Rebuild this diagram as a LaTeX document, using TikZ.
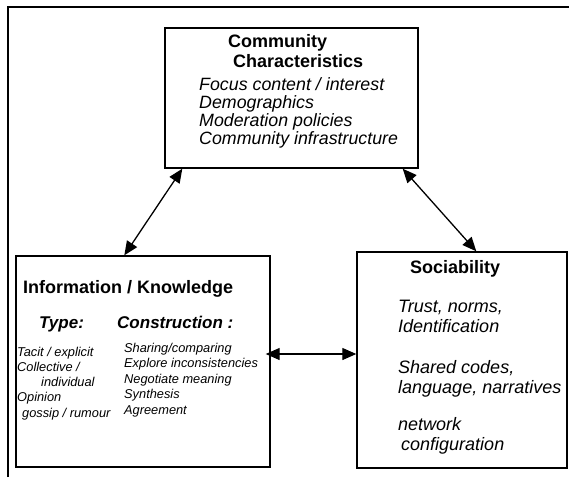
\documentclass[tikz,border=0pt]{standalone}
\usepackage{fontspec}
\setmainfont{Liberation Sans}
\usetikzlibrary{arrows.meta}

\begin{document}
\begin{tikzpicture}[
  x=1pt, y=-1pt,
  box/.style={draw, line width=1.4pt, inner sep=0pt},
  heading/.style={anchor=base west, inner sep=0pt, align=left, font=\bfseries\fontsize{18}{19.5}\selectfont},
  subhead/.style={anchor=base west, inner sep=0pt, font=\bfseries\itshape\fontsize{17}{20}\selectfont},
  item/.style={anchor=base west, inner sep=0pt, align=left, font=\itshape\fontsize{17.8}{18}\selectfont},
  smallitem/.style={anchor=base west, inner sep=0pt, align=left, font=\itshape\fontsize{12.8}{15.2}\selectfont},
  bigitem/.style={anchor=base west, inner sep=0pt, align=left, font=\itshape\fontsize{18}{20}\selectfont},
  link/.style={{Triangle[length=14pt,width=12pt]}-{Triangle[length=14pt,width=12pt]}, line width=1.3pt}
]
  \useasboundingbox (0,0) rectangle (569,477);

  % Outer frame (top and left only)
  \draw[line width=2pt] (8,477) -- (8,7) -- (569,7);

  % Boxes
  \node[box, minimum width=253pt, minimum height=140pt] (chars) at (291.5,98) {};
  \node[box, minimum width=254pt, minimum height=211pt] (info) at (143,361.5) {};
  \node[box, minimum width=210pt, minimum height=216pt] (social) at (462,360) {};

  % Community characteristics (anchored at last baseline)
  \node[heading] (charsTitle) at (228,67) {Community\\\hspace*{5pt}Characteristics};
  \node[item] (charsList) at (199,144) {Focus content / interest\\Demographics\\Moderation policies\\Community infrastructure};

  % Information / knowledge
  \node[heading] (infoTitle) at (23,293) {Information / Knowledge};
  \node[subhead] (typeHead) at (39,328) {Type:};
  \node[subhead] (consHead) at (117,328) {Construction :};
  \node[smallitem] (typeList) at (17,417) {Tacit / explicit\\Collective /\\\hspace*{24pt}individual\\Opinion\\\hspace*{5pt}gossip / rumour};
  \node[smallitem, font=\itshape\fontsize{12.8}{15.5}\selectfont] (consList) at (124,414) {Sharing/comparing\\Explore inconsistencies\\Negotiate meaning\\Synthesis\\Agreement};

  % Sociability
  \node[heading] (socialTitle) at (410,273) {Sociability};
  \node[bigitem] (trustList) at (398,332) {Trust, norms,\\Identification};
  \node[bigitem] (codesList) at (398,393) {Shared codes,\\language, narratives};
  \node[bigitem] (netList) at (398,450) {network\\\hspace*{3pt}configuration};

  % Two-way links
  \draw[link] ([xshift=18pt]chars.south west) -- ([xshift=109pt]info.north west);
  \draw[link] ([xshift=-16pt]chars.south east) -- ([xshift=120pt]social.north west);
  \draw[link] ([xshift=-5pt,yshift=7.5pt]info.east) -- ([yshift=7.5pt]info.east -| social.west);
\end{tikzpicture}
\end{document}
